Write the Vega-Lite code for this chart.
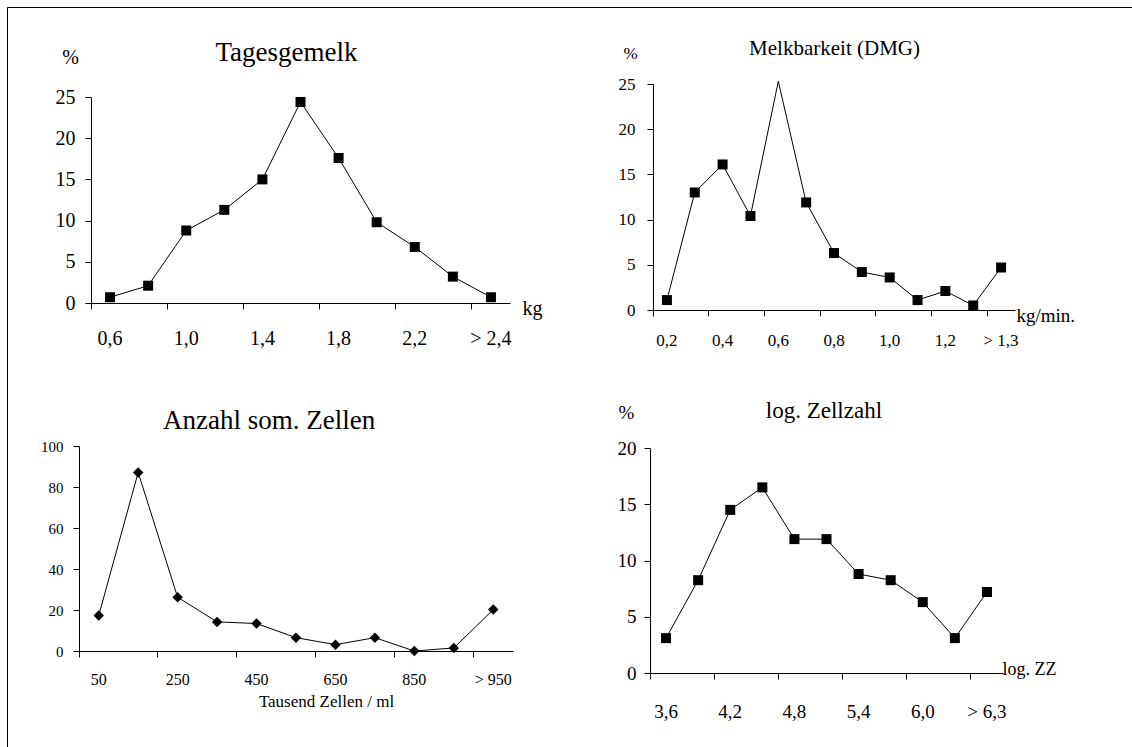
{
  "$schema": "https://vega.github.io/schema/vega-lite/v6.json",
  "width": 1132,
  "height": 747,
  "padding": 0,
  "autosize": {"type": "none"},
  "background": "white",
  "config": {
    "view": {"stroke": null},
    "font": "Liberation Serif",
    "axis": {
      "grid": false,
      "labelFont": "Liberation Serif",
      "titleFont": "Liberation Serif",
      "labelColor": "black",
      "titleColor": "black",
      "domainColor": "black",
      "tickColor": "black",
      "titleFontWeight": "normal",
      "tickSize": 6,
      "labelFlush": false,
      "labelOverlap": false,
      "labelAngle": 0
    }
  },
  "datasets": {
    "tages": [
      {"k": "0,6", "v": 0.7}, {"k": "0,8", "v": 2.1}, {"k": "1,0", "v": 8.8}, {"k": "1,2", "v": 11.3},
      {"k": "1,4", "v": 15.0}, {"k": "1,6", "v": 24.4}, {"k": "1,8", "v": 17.6}, {"k": "2,0", "v": 9.8},
      {"k": "2,2", "v": 6.8}, {"k": "2,4", "v": 3.2}, {"k": "> 2,4", "v": 0.7}
    ],
    "melk": [
      {"k": "0,2", "v": 1.1}, {"k": "0,3", "v": 13.0}, {"k": "0,4", "v": 16.1}, {"k": "0,5", "v": 10.4},
      {"k": "0,6", "v": 25.3}, {"k": "0,7", "v": 11.9}, {"k": "0,8", "v": 6.3}, {"k": "0,9", "v": 4.2},
      {"k": "1,0", "v": 3.6}, {"k": "1,1", "v": 1.1}, {"k": "1,2", "v": 2.1}, {"k": "1,3", "v": 0.5},
      {"k": "> 1,3", "v": 4.7}
    ],
    "zellen": [
      {"k": "50", "v": 17.3}, {"k": "150", "v": 87.1}, {"k": "250", "v": 26.2}, {"k": "350", "v": 14.2},
      {"k": "450", "v": 13.4}, {"k": "550", "v": 6.5}, {"k": "650", "v": 3.1}, {"k": "750", "v": 6.5},
      {"k": "850", "v": 0.0}, {"k": "950", "v": 1.5}, {"k": "> 950", "v": 20.2}
    ],
    "logzz": [
      {"k": "3,6", "v": 3.1}, {"k": "3,9", "v": 8.25}, {"k": "4,2", "v": 14.5}, {"k": "4,5", "v": 16.5},
      {"k": "4,8", "v": 11.9}, {"k": "5,1", "v": 11.9}, {"k": "5,4", "v": 8.8}, {"k": "5,7", "v": 8.25},
      {"k": "6,0", "v": 6.3}, {"k": "6,3", "v": 3.1}, {"k": "> 6,3", "v": 7.2}
    ]
  },
  "layer": [
    {
      "data": {"values": [{"a": 0, "b": 0}]},
      "mark": {"type": "point", "opacity": 0},
      "encoding": {
        "x": {"field": "a", "type": "quantitative", "scale": {"domain": [0, 1], "range": [7, 1132]},
              "axis": {"orient": "top", "offset": -7, "labels": false, "ticks": false, "title": null, "domain": true}},
        "y": {"field": "b", "type": "quantitative", "scale": {"domain": [0, 1], "range": [747, 7]},
              "axis": {"orient": "left", "offset": -7, "labels": false, "ticks": false, "title": null, "domain": true}}
      }
    },
    {
      "data": {"name": "tages"},
      "encoding": {
        "x": {"field": "k", "type": "ordinal", "sort": null,
              "scale": {"type": "band", "domain": ["0,6","0,8","1,0","1,2","1,4","1,6","1,8","2,0","2,2","2,4","> 2,4"], "range": [91, 510], "paddingInner": 0, "paddingOuter": 0},
              "axis": {"orient": "bottom", "offset": -444, "values": ["0,6","1,0","1,4","1,8","2,2","> 2,4"], "bandPosition": 0, "tickExtra": false,
                       "labelFontSize": 20, "labelBaseline": "alphabetic", "labelPadding": 35,
                       "title": "kg", "titleFontSize": 20, "titleX": 522, "titleY": 11, "titleAlign": "left", "titleBaseline": "alphabetic", "titleAnchor": "start"}},
        "y": {"field": "v", "type": "quantitative",
              "scale": {"domain": [0, 25], "range": [303, 97], "nice": false},
              "axis": {"orient": "left", "offset": -91, "values": [0, 5, 10, 15, 20, 25], "labelFontSize": 20, "labelPadding": 10,
                       "title": "%", "titleFontSize": 20, "titleAngle": 0, "titleX": -21, "titleY": 57, "titleAlign": "center", "titleBaseline": "middle"}}
      },
      "layer": [
        {"mark": {"type": "line", "color": "black", "strokeWidth": 1}},
        {"mark": {"type": "point", "shape": "square", "filled": true, "color": "black", "opacity": 1, "size": 100}},
        {
          "mark": {"type": "text", "fontSize": 27, "align": "center", "baseline": "alphabetic", "color": "black", "font": "Liberation Serif"},
          "encoding": {
            "text": {"value": "Tagesgemelk"},
            "opacity": {"condition": {"test": "datum.k === '1,6'", "value": 1}, "value": 0},
            "x": {"datum": "1,6", "type": "ordinal", "bandPosition": 0.13},
            "y": {"datum": 29.4, "type": "quantitative"}
          }
        }
      ]
    },
    {
      "data": {"name": "melk"},
      "encoding": {
        "x": {"field": "k", "type": "ordinal", "sort": null,
              "scale": {"type": "band", "domain": ["0,2","0,3","0,4","0,5","0,6","0,7","0,8","0,9","1,0","1,1","1,2","1,3","> 1,3"], "range": [653, 1015], "paddingInner": 0, "paddingOuter": 0},
              "axis": {"orient": "bottom", "offset": -437, "values": ["0,2","0,4","0,6","0,8","1,0","1,2","> 1,3"], "bandPosition": 0, "tickExtra": false,
                       "labelFontSize": 17, "labelBaseline": "alphabetic", "labelPadding": 29,
                       "title": "kg/min.", "titleFontSize": 19, "titleX": 1016, "titleY": 11, "titleAlign": "left", "titleBaseline": "alphabetic", "titleAnchor": "start"}},
        "y": {"field": "v", "type": "quantitative",
              "scale": {"domain": [0, 25], "range": [310, 84], "nice": false},
              "axis": {"orient": "left", "offset": -653, "values": [0, 5, 10, 15, 20, 25], "labelFontSize": 17, "labelPadding": 12,
                       "title": "%", "titleFontSize": 17, "titleAngle": 0, "titleX": -23, "titleY": 53, "titleAlign": "center", "titleBaseline": "middle"}}
      },
      "layer": [
        {"mark": {"type": "line", "color": "black", "strokeWidth": 1}},
        {"transform": [{"filter": "datum.v <= 25"}],
         "mark": {"type": "point", "shape": "square", "filled": true, "color": "black", "opacity": 1, "size": 100}},
        {
          "mark": {"type": "text", "fontSize": 21, "align": "center", "baseline": "alphabetic", "color": "black", "font": "Liberation Serif"},
          "encoding": {
            "text": {"value": "Melkbarkeit (DMG)"},
            "opacity": {"condition": {"test": "datum.k === '0,8'", "value": 1}, "value": 0},
            "x": {"datum": "0,8", "type": "ordinal", "bandPosition": 0.52},
            "y": {"datum": 28.2, "type": "quantitative"}
          }
        }
      ]
    },
    {
      "data": {"name": "zellen"},
      "encoding": {
        "x": {"field": "k", "type": "ordinal", "sort": null,
              "scale": {"type": "band", "domain": ["50","150","250","350","450","550","650","750","850","950","> 950"], "range": [79, 513], "paddingInner": 0, "paddingOuter": 0},
              "axis": {"orient": "bottom", "offset": -96, "values": ["50","250","450","650","850","> 950"], "bandPosition": 0, "tickExtra": false,
                       "labelFontSize": 16, "labelBaseline": "alphabetic", "labelPadding": 27,
                       "title": "Tausend Zellen / ml", "titleFontSize": 17, "titleX": 326, "titleY": 55, "titleAlign": "center", "titleBaseline": "alphabetic"}},
        "y": {"field": "v", "type": "quantitative",
              "scale": {"domain": [0, 100], "range": [651, 446], "nice": false},
              "axis": {"orient": "left", "offset": -79, "values": [0, 20, 40, 60, 80, 100], "labelFontSize": 15, "labelPadding": 10, "title": null}}
      },
      "layer": [
        {"mark": {"type": "line", "color": "black", "strokeWidth": 1}},
        {"mark": {"type": "point", "shape": "diamond", "filled": true, "color": "black", "opacity": 1, "size": 110}},
        {
          "mark": {"type": "text", "fontSize": 27, "align": "center", "baseline": "alphabetic", "color": "black", "font": "Liberation Serif"},
          "encoding": {
            "text": {"value": "Anzahl som. Zellen"},
            "opacity": {"condition": {"test": "datum.k === '450'", "value": 1}, "value": 0},
            "x": {"datum": "450", "type": "ordinal", "bandPosition": 0.82},
            "y": {"datum": 108.3, "type": "quantitative"}
          }
        }
      ]
    },
    {
      "data": {"name": "logzz"},
      "encoding": {
        "x": {"field": "k", "type": "ordinal", "sort": null,
              "scale": {"type": "band", "domain": ["3,6","3,9","4,2","4,5","4,8","5,1","5,4","5,7","6,0","6,3","> 6,3"], "range": [650, 1003], "paddingInner": 0, "paddingOuter": 0},
              "axis": {"orient": "bottom", "offset": -74, "values": ["3,6","4,2","4,8","5,4","6,0","> 6,3"], "bandPosition": 0, "tickExtra": false,
                       "labelFontSize": 19, "labelBaseline": "alphabetic", "labelPadding": 38,
                       "title": "log. ZZ", "titleFontSize": 18, "titleX": 1002, "titleY": 1, "titleAlign": "left", "titleBaseline": "alphabetic", "titleAnchor": "start"}},
        "y": {"field": "v", "type": "quantitative",
              "scale": {"domain": [0, 20], "range": [673, 448], "nice": false},
              "axis": {"orient": "left", "offset": -650, "values": [0, 5, 10, 15, 20], "labelFontSize": 19, "labelPadding": 8,
                       "title": "%", "titleFontSize": 19, "titleAngle": 0, "titleX": -24, "titleY": 412, "titleAlign": "center", "titleBaseline": "middle"}}
      },
      "layer": [
        {"mark": {"type": "line", "color": "black", "strokeWidth": 1}},
        {"mark": {"type": "point", "shape": "square", "filled": true, "color": "black", "opacity": 1, "size": 100}},
        {
          "mark": {"type": "text", "fontSize": 23, "align": "center", "baseline": "alphabetic", "color": "black", "font": "Liberation Serif"},
          "encoding": {
            "text": {"value": "log. Zellzahl"},
            "opacity": {"condition": {"test": "datum.k === '5,1'", "value": 1}, "value": 0},
            "x": {"datum": "5,1", "type": "ordinal", "bandPosition": 0.42},
            "y": {"datum": 22.7, "type": "quantitative"}
          }
        }
      ]
    }
  ],
  "resolve": {
    "scale": {"x": "independent", "y": "independent"},
    "axis": {"x": "independent", "y": "independent"}
  }
}
